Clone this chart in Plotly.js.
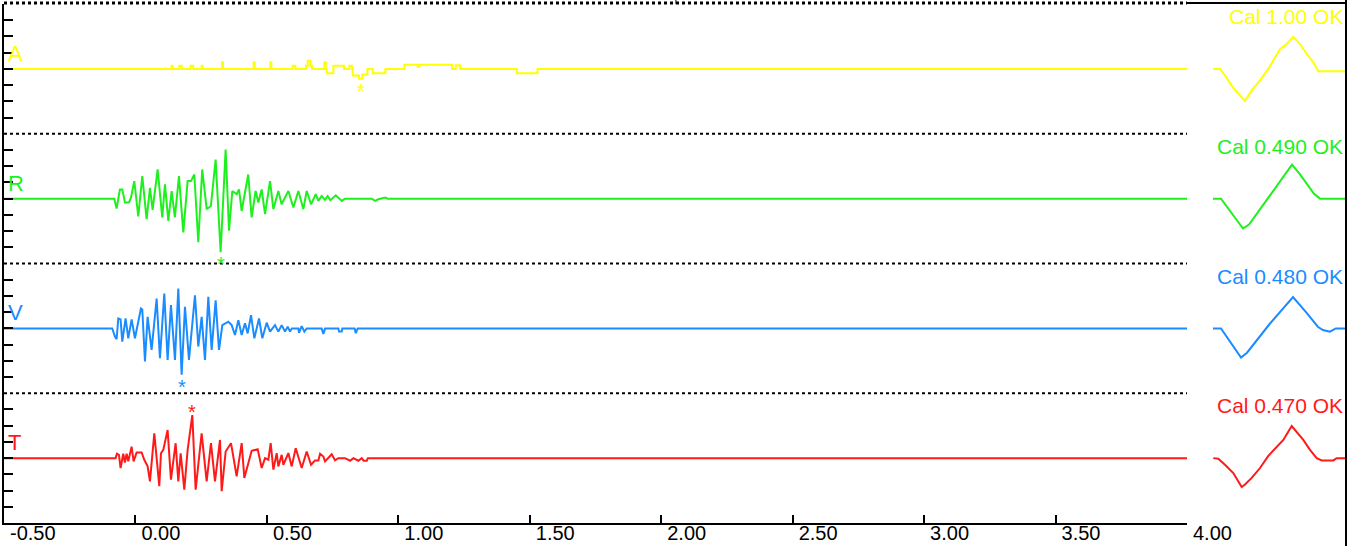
<!DOCTYPE html>
<html>
<head>
<meta charset="utf-8">
<script src="https://cdn.plot.ly/plotly-3.0.1.min.js"></script>
<style>
  html, body { margin: 0; padding: 0; background: #ffffff; }
  #chart { width: 1352px; height: 546px; }
</style>
</head>
<body>
<div id="chart"></div>
<script>
// ---------- DATA ----------
const channels   = ["A", "R", "V", "T"];
const calLabels  = ["Cal 1.00 OK", "Cal 0.490 OK", "Cal 0.480 OK", "Cal 0.470 OK"];
const chanColors = ["#ffff00", "#1ef01e", "#1a8cff", "#ff1a1a"];

const tickValues = [-0.5, 0, 0.5, 1, 1.5, 2, 2.5, 3, 3.5, 4];
const tickLabels = ["-0.50", "0.00", "0.50", "1.00", "1.50", "2.00", "2.50", "3.00", "3.50", "4.00"];

// A channel (time s, value in scale divisions)
const tA = [-0.5, 0.1377, 0.1415, 0.1668, 0.1757, 0.21, 0.2201, 0.2518, 0.2556, 0.3292, 0.333,
  0.4497, 0.4535, 0.5132, 0.517, 0.5982, 0.6083, 0.6489, 0.6553, 0.6654, 0.6717, 0.7187, 0.7237,
  0.7276, 0.7529, 0.7935, 0.8138, 0.824, 0.8265, 0.8506, 0.8633, 0.8823, 0.9027, 0.9508, 1.0232,
  1.0739, 1.0802, 1.2046, 1.2185, 1.235, 1.4507, 1.5294, 4.0];
const vA = [0, 0.2, 0, 0.2, 0, 0.2, 0, 0.2, 0, 0.41, 0,
  0.41, 0, 0.41, 0, 0.2, 0, 0.2, 0.5, 0.2, 0, 0.41, 0,
  -0.27, 0.2, 0, 0.2, 0, -0.41, -0.61, -0.35, 0, -0.27, 0, 0.25,
  0.12, 0.25, 0, 0.22, 0, -0.27, 0, 0];

// R channel
const tR = [-0.5, -0.0806, -0.0717, -0.059, -0.050, -0.040, -0.0247, -0.0171, -0.0044, 0.0108,
  0.026, 0.0425, 0.0552, 0.0653, 0.0844, 0.102, 0.1123, 0.125, 0.1377, 0.150, 0.1656, 0.182,
  0.1985, 0.211, 0.224, 0.239, 0.254, 0.271, 0.287, 0.305, 0.324, 0.343, 0.356, 0.3685, 0.385,
  0.394, 0.404, 0.429, 0.442, 0.457, 0.4675, 0.480, 0.493, 0.512, 0.5246, 0.5436, 0.556, 0.5817,
  0.6007, 0.6197, 0.6387, 0.6514, 0.668, 0.6857, 0.696, 0.7085, 0.721, 0.731, 0.7415, 0.762,
  0.785, 0.797, 0.899, 0.9115, 0.924, 0.9496, 0.96, 4.0];
const vR = [0, 0, -0.61, 0.57, 0.57, -0.24, -0.24, 0.06, 1.08, -1.10,
  1.39, -1.27, 0.67, -0.69, 1.80, -1.16, 0.88, -1.37, 0.47, -1.16, 1.39, -2.08,
  1.08, 1.08, 1.49, -2.69, 1.80, -0.65, -0.45, 2.41, -3.31, 3.02, -1.98, 0.47, 0.27,
  0.57, -0.76, 1.49, -1.16, 0.47, -0.24, 0.57, -0.96, 1.08, -0.65, 0.47, -0.35, 0.47,
  -0.55, 0.47, -0.65, 0.47, -0.35, 0.27, -0.14, 0.16, -0.08, 0.16, -0.10, 0.20,
  -0.14, 0, 0, -0.14, -0.04, 0.06, 0, 0];

// V channel
const tV = [-0.5, -0.0882, -0.078, -0.0717, -0.0653, -0.0565, -0.0501, -0.0374, -0.0273, -0.0146,
  -0.0019, 0.0209, 0.026, 0.0362, 0.0463, 0.0615, 0.0806, 0.0932, 0.1097, 0.1224, 0.1351, 0.1503,
  0.163, 0.1757, 0.1884, 0.2036, 0.2264, 0.2391, 0.2518, 0.2645, 0.2772, 0.2899, 0.3051, 0.3178,
  0.3305, 0.3533, 0.366, 0.3787, 0.3914, 0.4041, 0.4167, 0.4269, 0.4396, 0.4523, 0.47, 0.4827,
  0.4992, 0.5119, 0.5309, 0.5436, 0.5563, 0.569, 0.5791, 0.588, 0.595, 0.6197, 0.6223, 0.6324,
  0.6425, 0.6514, 0.7085, 0.7149, 0.7212, 0.772, 0.7745, 0.7846, 0.787, 0.834, 0.838, 0.8456, 4.0];
const vV = [0, 0, -0.51, -0.67, 0.61, 0.55, -0.82, 0.61, -0.61, 0.55,
  -0.61, 1.22, 1.16, -2.04, 0.71, -1.33, 1.84, -1.84, 2.14, -1.94, 1.43, -1.94,
  2.45, -2.86, 1.33, -1.94, 2.04, -1.12, 0.71, -1.94, 1.94, -1.33, 1.73, -1.33,
  0.2, 0.41, 0.2, -0.41, 0.51, -0.41, 0.31, -0.31, 0.82, -0.61, 0.61, -0.61,
  0.35, -0.2, 0.2, -0.2, 0.2, -0.2, 0.1, -0.2, 0, 0, -0.27, 0.14,
  -0.2, 0, 0, -0.35, 0, 0, -0.2, -0.2, 0, 0, -0.3, 0, 0];

// T channel
const tT = [-0.5, -0.0755, -0.0704, -0.0628, -0.0565, -0.0463, -0.04, -0.0336, -0.0273, -0.0146,
  -0.007, 0.0044, 0.0235, 0.0336, 0.0463, 0.0552, 0.0717, 0.0907, 0.0971, 0.1059, 0.1224, 0.1351,
  0.1529, 0.163, 0.172, 0.1858, 0.1985, 0.2163, 0.229, 0.2518, 0.2709, 0.2873, 0.3026, 0.3216,
  0.328, 0.3432, 0.3635, 0.385, 0.4041, 0.4142, 0.4421, 0.465, 0.4802, 0.4929, 0.5056, 0.5144,
  0.5246, 0.5373, 0.5436, 0.5563, 0.5626, 0.5817, 0.5944, 0.6096, 0.6324, 0.6514, 0.668, 0.6832,
  0.6958, 0.7022, 0.7149, 0.7212, 0.7466, 0.7593, 0.7719, 0.7973, 0.8164, 0.829, 0.848, 0.8607,
  0.868, 0.88, 0.884, 4.0];
const vT = [0, 0, 0.27, 0.2, -0.61, 0.27, -0.27, 0.27, -0.2, 0.71,
  -0.2, 0.35, 0.35, -0.1, -0.51, -1.43, 1.53, -1.73, 0.3, 0.51, 1.73, -1.33,
  0.92, -1.43, 0.3, -1.94, 0.51, 2.65, -1.94, 1.53, -1.43, 0.92, -1.43, 1.12,
  -2.04, 0.41, 0.92, -1.12, 0.92, -1.22, 0.45, 0.55, -0.61, 0, -0.1, 0.92,
  -0.71, 0.31, -0.51, 0.2, -0.41, 0.31, -0.51, 0.61, -0.61, 0.41, -0.41, -0.14,
  -0.14, 0.27, 0.1, -0.2, 0.24, -0.14, 0, 0, -0.16, 0, -0.16, 0,
  -0.16, -0.16, 0, 0];

// Calibration pulses (time s within the cal window, value in divisions)
const calTA = [0.100, 0.1256, 0.1446, 0.1762, 0.2207, 0.2462, 0.2778, 0.3094, 0.3285, 0.3539, 0.3794,
  0.4046, 0.4301, 0.4556, 0.4807, 0.4997, 0.6051];
const calVA = [0, 0, -0.41, -1.17, -1.98, -1.33, -0.71, 0, 0.51, 1.22, 1.53,
  1.98, 1.53, 0.92, 0.41, -0.14, -0.14];
const calTR = [0.099, 0.1294, 0.2131, 0.236, 0.3159, 0.373, 0.3996, 0.4301, 0.4834, 0.5062, 0.6051];
const calVR = [0, 0, -1.84, -1.6, 0.2, 1.5, 2.09, 1.5, 0.3, 0, 0];
const calTV = [0.099, 0.1294, 0.2055, 0.2284, 0.3159, 0.4034, 0.4529, 0.498, 0.517, 0.5437, 0.5665, 0.6051];
const calVV = [0, 0, -1.8, -1.5, 0.3, 1.93, 1.0, 0.1, -0.1, -0.2, 0, 0];
const calTT = [0.100, 0.119, 0.1446, 0.1762, 0.2082, 0.2207, 0.2462, 0.2778, 0.3094, 0.3414, 0.3665,
  0.3985, 0.4175, 0.4426, 0.4681, 0.4936, 0.5126, 0.5568, 0.5697, 0.6051];
const calVT = [0, -0.04, -0.41, -0.92, -1.78, -1.63, -1.22, -0.61, 0.14, 0.71, 1.12,
  1.98, 1.63, 1.12, 0.51, 0, -0.14, -0.14, 0, 0];

// ---------- BUILD ----------
const times  = [tA, tR, tV, tT];
const values = [vA, vR, vV, vT];
const calTs  = [calTA, calTR, calTV, calTT];
const calVs  = [calVA, calVR, calVV, calVT];
const shapesOf = ["hv", "linear", "linear", "linear"];

const W = 1352, H = 546;
const mL = 4, mR = 6, mT = 4, mB = 23;
const plotW = W - mL - mR;
const mainEnd = 1183 / plotW;   // fraction of width used by the time axis
const FONT = "Liberation Sans, Arial, Helvetica, sans-serif";

const traces = [];
const annotations = [];
const layout = {
  width: W, height: H,
  margin: {l: mL, r: mR, t: mT, b: mB, pad: 0},
  paper_bgcolor: "#ffffff", plot_bgcolor: "#ffffff",
  showlegend: false,
  font: {family: FONT, size: 20, color: "#000000"},
  xaxis: {
    domain: [0, mainEnd], range: [-0.5, 4.0], anchor: "y4",
    tickmode: "array", tickvals: tickValues, ticktext: tickLabels,
    ticks: "inside", ticklen: 8, tickwidth: 2, tickcolor: "#000000",
    ticklabelposition: "outside right", ticklabelshift: 4, ticklabelstandoff: -9,
    tickfont: {family: FONT, size: 20, color: "#000000"},
    showline: true, linecolor: "#000000", linewidth: 2,
    showgrid: false, zeroline: false, fixedrange: true
  },
  xaxis2: {
    domain: [mainEnd, 1], range: [0, 0.6051], anchor: "y4",
    visible: false, showgrid: false, zeroline: false, fixedrange: true
  },
  annotations: annotations,
  shapes: []
};

for (let i = 0; i < 4; i++) {
  const yName = i === 0 ? "y" : "y" + (i + 1);
  const yKey = i === 0 ? "yaxis" : "yaxis" + (i + 1);
  const top = 1 - i * 0.25, bot = 1 - (i + 1) * 0.25;
  layout[yKey] = {
    domain: [bot, top], range: [-4, 4], anchor: "x",
    tickmode: "array", tickvals: [-3, -2, -1, 0, 1, 2, 3],
    ticks: "inside", ticklen: 9, tickwidth: 2, tickcolor: "#000000",
    showticklabels: false,
    showline: true, linecolor: "#000000", linewidth: 2,
    showgrid: false, zeroline: false, fixedrange: true
  };
  traces.push({
    type: "scatter", mode: "lines", x: times[i], y: values[i],
    xaxis: "x", yaxis: yName,
    line: {color: chanColors[i], width: 2, shape: shapesOf[i]},
    hoverinfo: "skip"
  });
  traces.push({
    type: "scatter", mode: "lines", x: calTs[i], y: calVs[i],
    xaxis: "x2", yaxis: yName,
    line: {color: chanColors[i], width: 2},
    hoverinfo: "skip"
  });
  // channel label
  annotations.push({
    text: channels[i], xref: "paper", x: 0, xanchor: "left", xshift: 2,
    yref: yName, y: 0, yanchor: "bottom", yshift: 1, showarrow: false,
    font: {family: FONT, size: 22, color: chanColors[i]}
  });
  // calibration label
  annotations.push({
    text: calLabels[i], xref: "paper", x: 1, xanchor: "right", xshift: -1,
    yref: yName + " domain", y: 1, yanchor: "top", yshift: 1, showarrow: false,
    font: {family: FONT, size: 21, color: chanColors[i]}
  });
  // peak marker
  let pk = 0;
  values[i].forEach((v, k) => { if (Math.abs(v) > Math.abs(values[i][pk])) pk = k; });
  const pv = values[i][pk];
  const pt = shapesOf[i] === "hv" ? (times[i][pk] + times[i][pk + 1]) / 2 : times[i][pk];
  annotations.push({
    text: "*", xref: "x", x: pt, yref: yName, y: pv,
    yanchor: pv < 0 ? "top" : "bottom", yshift: pv < 0 ? 1 : -10,
    showarrow: false, font: {family: FONT, size: 20, color: chanColors[i]}
  });
  // dotted separator between panels
  if (i > 0) {
    layout.shapes.push({
      type: "line", xref: "paper", yref: "paper", x0: 0, x1: mainEnd, y0: top, y1: top,
      line: {color: "#000000", width: 2, dash: "dot"}
    });
  }
}

// frame pieces
layout.shapes.push({type: "line", xref: "paper", yref: "paper", x0: 0, x1: mainEnd, y0: 1.002, y1: 1.002,
  line: {color: "#000000", width: 3, dash: "dot"}});
layout.shapes.push({type: "line", xref: "paper", yref: "paper", x0: mainEnd, x1: 1, y0: 1.002, y1: 1.002,
  line: {color: "#000000", width: 2}});
layout.shapes.push({type: "line", xref: "paper", yref: "paper", x0: 1, x1: 1, y0: -0.05, y1: 1.01,
  line: {color: "#000000", width: 2}});
layout.shapes.push({type: "line", xref: "paper", yref: "paper", x0: 0.5007, x1: 0.5007, y0: 1, y1: 1.01,
  line: {color: "#000000", width: 1}});

Plotly.newPlot("chart", traces, layout, {staticPlot: true, displayModeBar: false});
</script>
</body>
</html>
